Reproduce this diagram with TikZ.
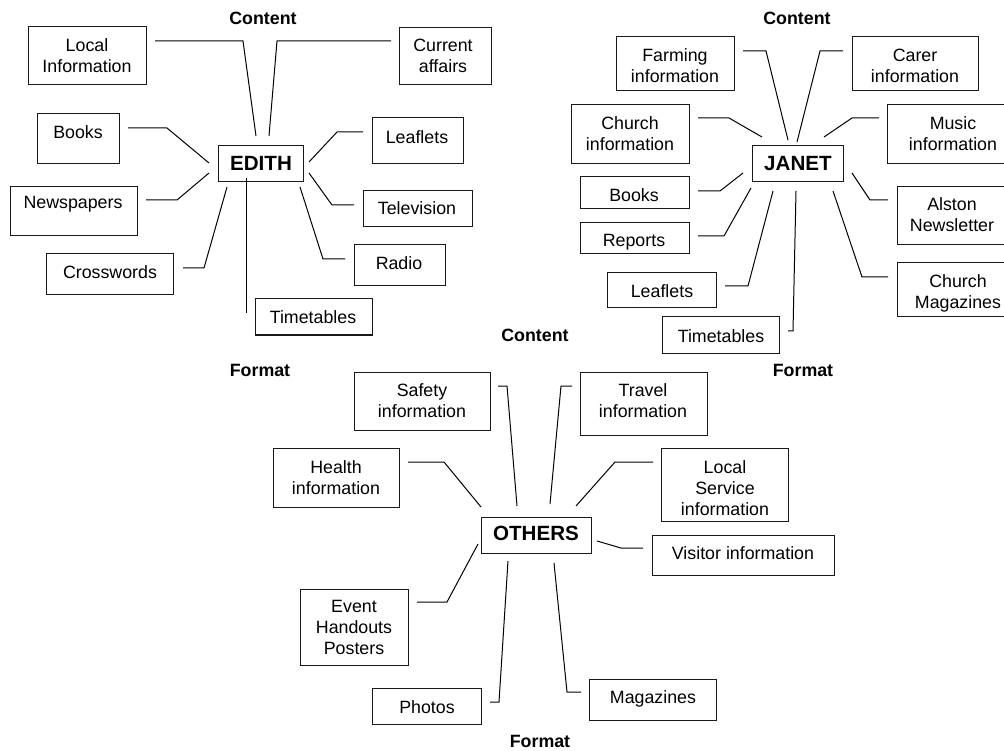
\documentclass[tikz,border=0pt]{standalone}
\usepackage{fontspec}
\setmainfont{Liberation Sans}
\begin{document}
\begin{tikzpicture}[x=1pt,y=-1pt,
  boxst/.style={draw=black!90,line width=1pt,rectangle,inner sep=0pt,outer sep=0pt},
  txt/.style={inner sep=0pt,outer sep=0pt,align=center,anchor=north,text=black,
    font=\fontsize{17.8}{21}\selectfont},
  hdr/.style={txt,font=\fontsize{17.8}{21}\selectfont\bfseries},
  hub/.style={txt,font=\fontsize{20.6}{24}\selectfont\bfseries},
  spokeline/.style={draw=black,line width=1pt}]
\useasboundingbox (0,0) rectangle (1004,751);
\clip (0,0) rectangle (1004,751);

% box: name, x1, y1, x2, y2
\newcommand\bx[5]{\node[boxst,minimum width={(#4)-(#2)},minimum height={(#5)-(#3)}]
  (#1) at ({((#2)+(#4))/2},{((#3)+(#5))/2}) {};}
% text: name, x, y of first line middle, text
\newcommand\tx[4]{\node[txt] (#1) at (#2,{#3-6.4}) {#4};}
\newcommand\hd[4]{\node[hdr] (#1) at (#2,{#3-6.4}) {#4};}
\newcommand\hb[4]{\node[hub] (#1) at (#2,{#3-7.4}) {#4};}
% bent connector through three named points
\newcommand\spoke[4]{\coordinate (#1-a) at #2; \coordinate (#1-b) at #3;
  \coordinate (#1-c) at #4; \draw[spokeline] (#1-a) -- (#1-b) -- (#1-c);}

% ---------------- EDITH ----------------
\hd{e-content}{263}{18}{Content}
\bx{e-loc}{28}{27}{146}{85}      \tx{e-loc-t}{87}{45}{Local\\Information}
\bx{e-cur}{399}{28}{491}{85}     \tx{e-cur-t}{443}{45}{Current\\affairs}
\bx{e-books}{37}{114}{119}{164}  \tx{e-books-t}{78}{132}{Books}
\bx{e-news}{10}{187}{137}{236}   \tx{e-news-t}{73}{203}{Newspapers}
\bx{e-cross}{46}{254}{173}{295}  \tx{e-cross-t}{110}{272}{Crosswords}
\bx{edith}{218}{146}{303}{182}   \hb{edith-t}{261}{164}{EDITH}
\bx{e-leaf}{372}{118}{463}{164}  \tx{e-leaf-t}{417}{137}{Leaflets}
\bx{e-tv}{363}{191}{472}{227}    \tx{e-tv-t}{417}{208}{Television}
\bx{e-radio}{354}{245}{445}{286} \tx{e-radio-t}{399}{263}{Radio}
\bx{e-time}{255}{299}{372}{335}  \tx{e-time-t}{313}{317}{Timetables}

\spoke{s-eloc}{(155,41)}{(243,41)}{(256,136)}
\spoke{s-ecur}{(391,41)}{(277,41)}{(269,136)}
\spoke{s-ebook}{(128,128)}{(167,128)}{(209,163)}
\spoke{s-enews}{(146,200)}{(177,200)}{(209,173)}
\spoke{s-ecross}{(183,268)}{(204,268)}{(227,187)}
\coordinate (s-etime-a) at (246,178); \coordinate (s-etime-b) at (246,313);
\draw[spokeline] (s-etime-a) -- (s-etime-b);
\spoke{s-eleaf}{(363,132)}{(337,132)}{(309,162)}
\spoke{s-etv}{(354,205)}{(332,205)}{(309,173)}
\spoke{s-eradio}{(345,259)}{(323,259)}{(300,187)}

% ---------------- JANET ----------------
\hd{j-content}{797}{18}{Content}
\bx{j-farm}{616}{37}{734}{91}      \tx{j-farm-t}{675}{55}{Farming\\information}
\bx{j-carer}{852}{37}{978}{91}     \tx{j-carer-t}{915}{55}{Carer\\information}
\bx{j-church}{571}{105}{689}{164}  \tx{j-church-t}{630}{123}{Church\\information}
\bx{j-music}{887}{105}{1018}{164}  \tx{j-music-t}{953}{123}{Music\\information}
\bx{janet}{752}{146}{843}{182}     \hb{janet-t}{798}{164}{JANET}
\bx{j-books}{580}{177}{689}{209}   \tx{j-books-t}{634}{195}{Books}
\bx{j-reports}{580}{223}{689}{254} \tx{j-reports-t}{634}{241}{Reports}
\bx{j-leaf}{607}{273}{716}{308}    \tx{j-leaf-t}{662}{291}{Leaflets}
\bx{j-time}{662}{317}{779}{353}    \tx{j-time-t}{721}{336}{Timetables}
\bx{j-alston}{897}{187}{1018}{245} \tx{j-alston-t}{952}{204}{Alston\\Newsletter}
\bx{j-cmag}{897}{263}{1018}{317}   \tx{j-cmag-t}{958}{281}{Church\\Magazines}

\spoke{s-jfarm}{(743,51)}{(766,51)}{(788,140)}
\spoke{s-jcarer}{(843,51)}{(820,51)}{(797,142)}
\spoke{s-jchurch}{(698,118)}{(729,118)}{(762,137)}
\spoke{s-jmusic}{(879,118)}{(852,118)}{(824,137)}
\spoke{s-jbooks}{(698,191)}{(720,191)}{(743,173)}
\spoke{s-jreports}{(698,236)}{(724,236)}{(751,188)}
\spoke{s-jleaf}{(725,286)}{(748,286)}{(773,191)}
\spoke{s-jtime}{(788,331)}{(793,331)}{(796,191)}
\spoke{s-jalston}{(888,200)}{(870,200)}{(852,173)}
\spoke{s-jcmag}{(888,277)}{(862,277)}{(833,191)}

% ---------------- OTHERS ----------------
\hd{o-content}{535}{335}{Content}
\hd{e-format}{260}{371}{Format}
\hd{j-format}{803}{371}{Format}
\hd{o-format}{540}{742}{Format}
\bx{o-safety}{354}{372}{490}{430}  \tx{o-safety-t}{422}{390}{Safety\\information}
\bx{o-travel}{580}{372}{707}{435}  \tx{o-travel-t}{643}{390}{Travel\\information}
\bx{o-health}{273}{448}{399}{507}  \tx{o-health-t}{336}{467}{Health\\information}
\bx{o-lserv}{661}{448}{788}{521}   \tx{o-lserv-t}{725}{467}{Local\\Service\\information}
\bx{others}{481}{517}{591}{553}    \hb{others-t}{536}{534}{OTHERS}
\bx{o-visit}{652}{535}{834}{575}   \tx{o-visit-t}{743}{553}{Visitor information}
\bx{o-event}{300}{589}{408}{665}   \tx{o-event-t}{354}{607}{Event\\Handouts\\Posters}
\bx{o-photos}{372}{688}{481}{724}  \tx{o-photos-t}{427}{707}{Photos}
\bx{o-mags}{589}{679}{716}{720}    \tx{o-mags-t}{653}{697}{Magazines}

\spoke{s-osafety}{(498,386)}{(507,386)}{(517,506)}
\spoke{s-otravel}{(572,386)}{(561,386)}{(550,504)}
\spoke{s-ohealth}{(408,462)}{(444,462)}{(481,507)}
\spoke{s-olserv}{(653,462)}{(615,462)}{(576,506)}
\spoke{s-ovisit}{(643,548)}{(621,548)}{(597,541)}
\spoke{s-oevent}{(417,602)}{(447,602)}{(478,544)}
\spoke{s-ophotos}{(490,702)}{(499,702)}{(508,561)}
\spoke{s-omags}{(581,692)}{(567,692)}{(554,563)}
\end{tikzpicture}
\end{document}
